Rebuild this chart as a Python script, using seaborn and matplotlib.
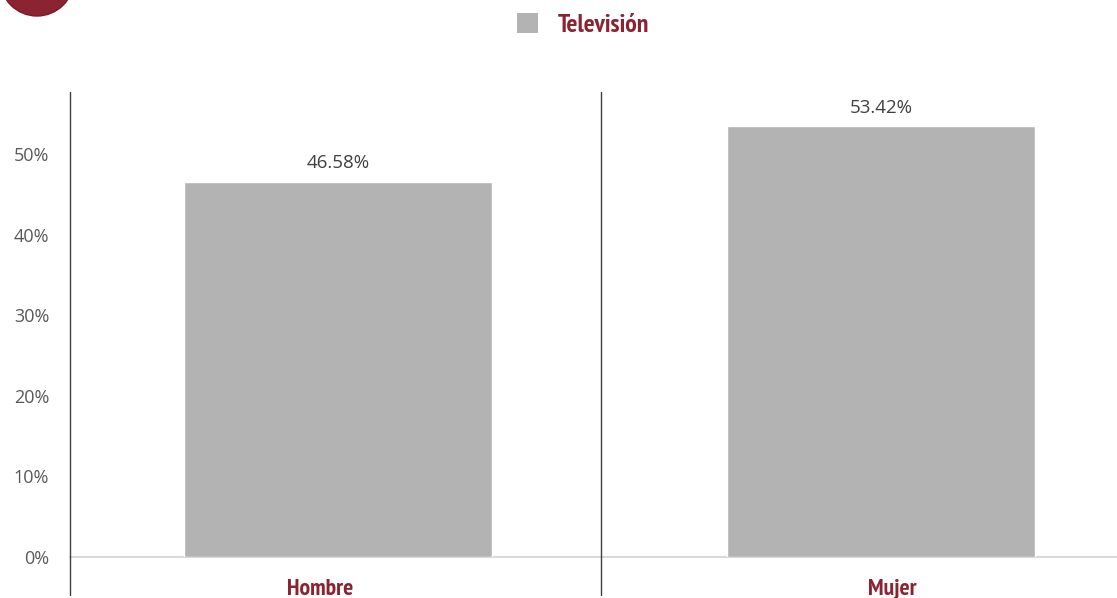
import matplotlib
matplotlib.use("Agg")
import matplotlib.pyplot as plt
import matplotlib.transforms as mtrans
import seaborn as sns
import pandas as pd
from matplotlib.patches import Circle, Patch
from matplotlib import font_manager as fm

categories = ["Hombre", "Mujer"]
values = [46.58, 53.42]
series_name = "Televisión"
yticks = [0, 10, 20, 30, 40, 50]
ytick_labels = ["0%", "10%", "20%", "30%", "40%", "50%"]

RED = "#8B2331"
GRAY = "#B3B3B3"
TXT = "#595959"

sns.set_theme(style="white")
plt.rcParams["font.family"] = ["Open Sans", "DejaVu Sans"]

cond_fp = None
for path in [f.fname for f in fm.fontManager.ttflist]:
    low = path.lower()
    if "narrow" in low and "bold" in low and "italic" not in low:
        cond_fp = fm.FontProperties(fname=path)
        break
if cond_fp is None:
    for path in [f.fname for f in fm.fontManager.ttflist]:
        low = path.lower()
        if "condensed" in low and "bold" in low and "oblique" not in low and "italic" not in low:
            cond_fp = fm.FontProperties(fname=path)
            break
if cond_fp is None:
    cond_fp = fm.FontProperties(family="DejaVu Sans", weight="bold")

W, H = 1117, 598
fig = plt.figure(figsize=(W / 100, H / 100), dpi=100)
ax = fig.add_axes([70 / W, 1 - 557 / H, 1 - 70 / W, (557 - 92) / H])

df = pd.DataFrame({"cat": categories, "val": values})
sns.barplot(data=df, x="cat", y="val", color=GRAY, width=0.567, ax=ax,
            saturation=1, label=series_name, legend=False)

ax.set_xlim(-0.4936, 1.4346)
ax.set_ylim(0, 57.7)
for s in ax.spines.values():
    s.set_visible(False)
ax.axhline(0, color="#D9D9D9", lw=1.5, zorder=0, clip_on=False)
for xv in [-0.4936, 0.4843]:
    ax.axvline(xv, ymin=-38 / 465, ymax=1, color="#404040", lw=1.0, clip_on=False)

ax.set_yticks(yticks)
ax.set_yticklabels(ytick_labels, color=TXT, fontsize=13)
ax.tick_params(axis="y", length=0, pad=15)
ax.set_xticks(range(len(categories)))
lab_fp = cond_fp.copy()
lab_fp.set_size(17)
ax.set_xticklabels(categories, color=RED, fontproperties=lab_fp)
ax.tick_params(axis="x", length=0, pad=16)
for lbl, dx in zip(ax.get_xticklabels(), [-18, 11]):
    lbl.set_transform(lbl.get_transform() + mtrans.ScaledTranslation(dx / 100, 0, fig.dpi_scale_trans))
ax.set_xlabel("")
ax.set_ylabel("")
ax.grid(False)

for i, v in enumerate(values):
    ax.annotate(f"{v:.2f}%", (i, v), xytext=(0, 7), textcoords="offset points",
                ha="center", va="bottom", color="#404040", fontsize=13.5)

leg_fp = cond_fp.copy()
leg_fp.set_size(18.5)
handle = Patch(facecolor=GRAY, edgecolor="none")
fig.legend([handle], [series_name], loc="center", bbox_to_anchor=(583 / W, 1 - 25 / H),
           frameon=False, handlelength=0.82, handleheight=0.82, handletextpad=0.75,
           prop=leg_fp, labelcolor=RED)

circ = Circle((37 / 100, (H + 21) / 100), 37 / 100, transform=fig.dpi_scale_trans,
              facecolor=RED, edgecolor="#7a1c28", lw=1)
fig.patches.append(circ)

fig.savefig("out.png", dpi=100)
